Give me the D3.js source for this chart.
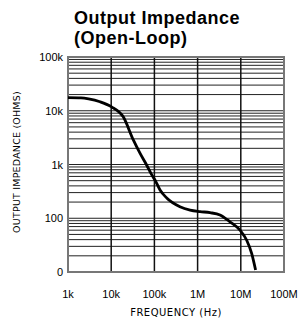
<!DOCTYPE html>
<html>
<head>
<meta charset="utf-8">
<script src="https://cdn.jsdelivr.net/npm/d3@7"></script>
<style>
  body { margin: 0; background: #fff; }
</style>
</head>
<body>
<div id="chart"></div>
<script>
// curve
const freqs = [1e3, 2e3, 3e3, 5.5e3, 1e4, 1.9e4, 3.25e4, 4.6e4, 6.6e4, 8.7e4, 1.03e5, 1.35e5,
  1.93e5, 3.9e5, 6.7e5, 1.14e6, 1.94e6, 3.3e6, 5.6e6, 9.6e6, 1.37e7, 1.79e7, 2.2e7];
const impedance = [17500, 17300, 16600, 14700, 11900, 7700, 2860, 1640, 980, 640, 515, 336,
  238, 164, 142, 133, 127, 115, 86, 60, 39, 22, 10.9];

const xTicks = [1e3, 1e4, 1e5, 1e6, 1e7, 1e8];
const xTickLabels = ["1k", "10k", "100k", "1M", "10M", "100M"];
const yTicks = [10, 100, 1e3, 1e4, 1e5];
const yTickLabels = ["0", "100", "1k", "10k", "100k"];

const width = 299, height = 325;
const margin = { top: 57, right: 15, bottom: 53, left: 68 };

const svg = d3.select("#chart")
  .append("svg")
  .attr("width", width)
  .attr("height", height);

const x = d3.scaleLog()
  .domain([1e3, 1e8])
  .range([margin.left, width - margin.right]);

const y = d3.scaleLog()
  .domain([10, 1e5])
  .range([height - margin.bottom, margin.top]);

// horizontal grid: every minor step of each decade
const hLines = [];
for (let dec = 1; dec < 5; dec++) {
  for (let m = 1; m < 10; m++) hLines.push(m * Math.pow(10, dec));
}

svg.append("g")
  .selectAll("line")
  .data(hLines)
  .enter()
  .append("line")
  .attr("x1", x.range()[0])
  .attr("x2", x.range()[1])
  .attr("y1", (d) => y(d))
  .attr("y2", (d) => y(d))
  .style("stroke", "#222")
  .style("stroke-width", 1);

// vertical grid only at decades
svg.append("g")
  .selectAll("line")
  .data(xTicks)
  .enter()
  .append("line")
  .attr("x1", (d) => x(d))
  .attr("x2", (d) => x(d))
  .attr("y1", y.range()[0])
  .attr("y2", y.range()[1])
  .style("stroke", "#111")
  .style("stroke-width", 1.5);

// frame
svg.append("rect")
  .attr("x", x.range()[0])
  .attr("y", y.range()[1])
  .attr("width", x.range()[1] - x.range()[0])
  .attr("height", y.range()[0] - y.range()[1])
  .style("fill", "none")
  .style("stroke", "#777")
  .style("stroke-width", 2);

const line = d3.line()
  .x((d, i) => x(freqs[i]))
  .y((d) => y(d))
  .curve(d3.curveMonotoneX);

svg.append("path")
  .datum(impedance)
  .attr("d", line)
  .style("fill", "none")
  .style("stroke", "#000")
  .style("stroke-width", 2.8)
  .style("stroke-linecap", "butt");

// tick labels
svg.append("g")
  .selectAll("text")
  .data(xTicks)
  .enter()
  .append("text")
  .attr("x", (d) => x(d))
  .attr("y", 298)
  .attr("text-anchor", "middle")
  .style("font-family", "Liberation Sans, Arial, sans-serif")
  .style("font-size", "11px")
  .text((d, i) => xTickLabels[i]);

svg.append("g")
  .selectAll("text")
  .data(yTicks)
  .enter()
  .append("text")
  .attr("x", 63)
  .attr("y", (d) => y(d) + 4)
  .attr("text-anchor", "end")
  .style("font-family", "Liberation Sans, Arial, sans-serif")
  .style("font-size", "11px")
  .text((d, i) => yTickLabels[i]);

// axis titles
svg.append("text")
  .attr("x", 176)
  .attr("y", 316)
  .attr("text-anchor", "middle")
  .style("font-family", "DejaVu Sans, sans-serif")
  .style("font-size", "10px")
  .style("letter-spacing", "0.5px")
  .text("FREQUENCY (Hz)");

svg.append("text")
  .attr("transform", "translate(20,162) rotate(-90)")
  .attr("text-anchor", "middle")
  .style("font-family", "DejaVu Sans, sans-serif")
  .style("font-size", "9.5px")
  .style("letter-spacing", "0.2px")
  .text("OUTPUT IMPEDANCE (OHMS)");

// title
const title = svg.append("text")
  .attr("x", 74)
  .style("font-family", "Liberation Sans, Arial, sans-serif")
  .style("font-weight", "bold")
  .style("font-size", "18px")
  .style("letter-spacing", "0.5px");
title.append("tspan").attr("x", 74).attr("y", 24).text("Output Impedance");
title.append("tspan").attr("x", 74).attr("y", 44).text("(Open-Loop)");
</script>
</body>
</html>
